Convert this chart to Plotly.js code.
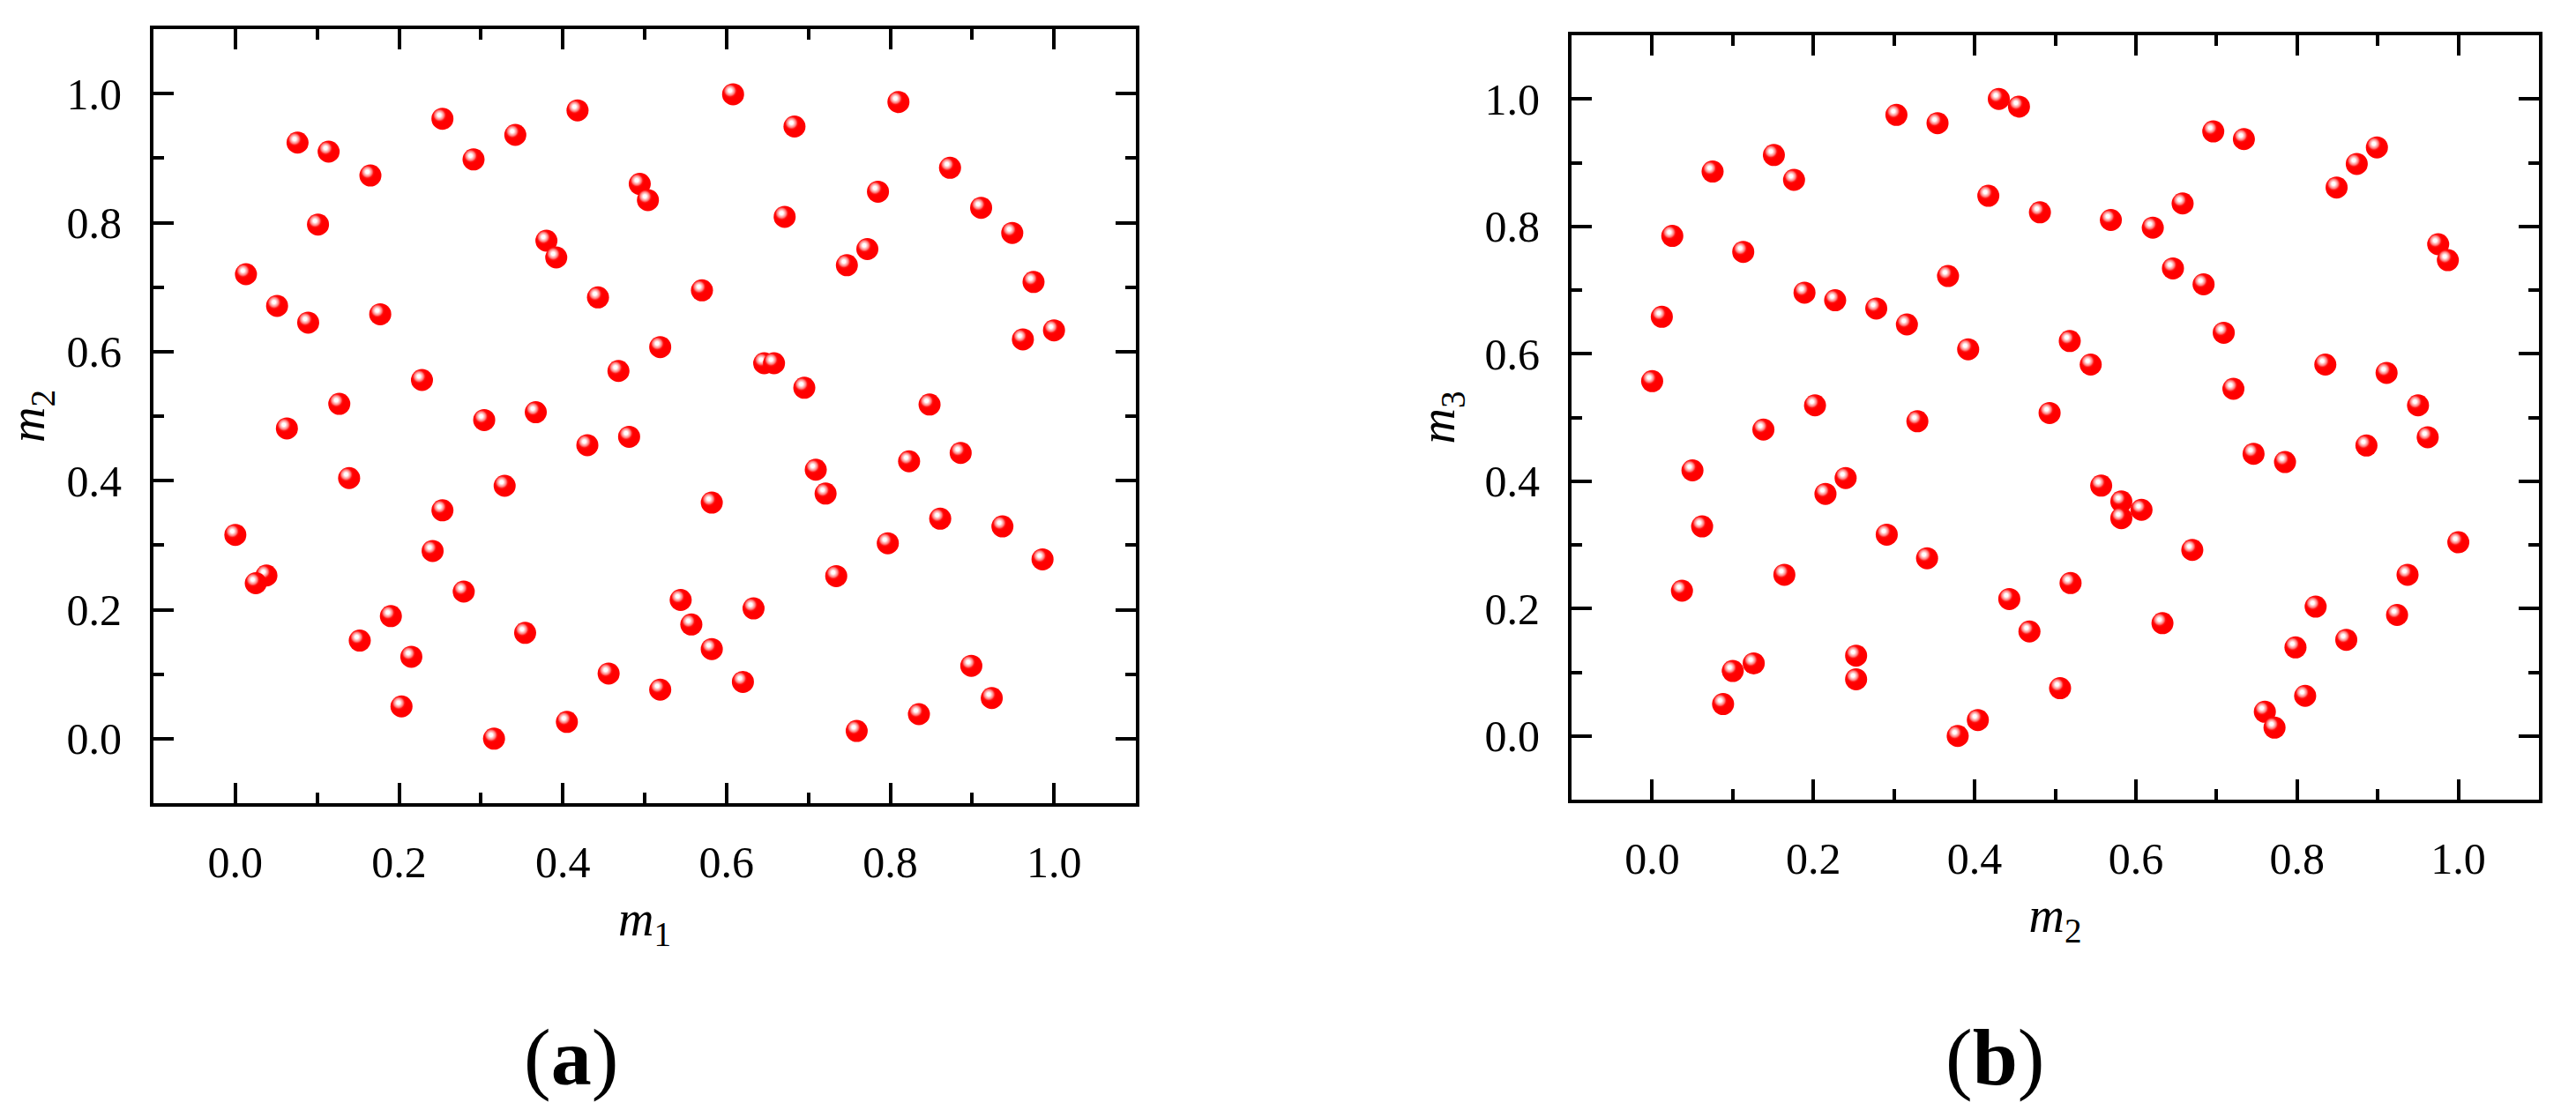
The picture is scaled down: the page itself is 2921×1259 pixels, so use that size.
<!DOCTYPE html>
<html>
<head>
<meta charset="utf-8">
<script src="https://cdn.plot.ly/plotly-3.0.1.min.js"></script>
<style>
  html, body { margin: 0; padding: 0; background: #ffffff; }
  #chart { width: 2921px; height: 1259px; }
</style>
</head>
<body>
<div id="chart"></div>
<script>
// ---- Panel (a): m1 vs m2 ----
var m1A = [0.076,0.114,0.253,0.342,0.418,0.291,0.165,0.101,0.494,0.504,0.380,0.392,0.013,0.051,0.089,0.177,0.443,0.468,0.228,0.127,0.367,
           0.608,0.810,0.683,0.873,0.785,0.911,0.671,0.949,0.772,0.747,0.975,0.570,1.000,0.962,0.519,0.646,0.658,0.695,0.848,
           0.063,0.304,0.430,0.481,0.139,0.329,0.253,0.000,0.241,0.038,0.025,0.279,0.190,0.354,0.152,0.215,0.456,0.203,0.405,0.316,
           0.886,0.823,0.709,0.721,0.582,0.861,0.937,0.797,0.986,0.734,0.544,0.633,0.557,0.582,0.899,0.620,0.519,0.924,0.835,0.759];
var m2A = [0.924,0.910,0.961,0.936,0.974,0.898,0.873,0.797,0.860,0.835,0.772,0.746,0.720,0.671,0.645,0.658,0.684,0.570,0.556,0.519,0.506,
           0.999,0.987,0.949,0.885,0.848,0.823,0.809,0.784,0.759,0.734,0.708,0.695,0.633,0.619,0.607,0.582,0.582,0.544,0.518,
           0.481,0.494,0.455,0.468,0.404,0.392,0.354,0.316,0.291,0.253,0.241,0.228,0.190,0.164,0.152,0.127,0.101,0.050,0.026,0.000,
           0.443,0.430,0.417,0.380,0.366,0.341,0.329,0.303,0.278,0.252,0.215,0.202,0.177,0.139,0.113,0.088,0.076,0.063,0.038,0.012];

// ---- Panel (b): m2 vs m3 ----
var m2B = [0.430,0.455,0.303,0.354,0.151,0.075,0.176,0.417,0.481,0.025,0.113,0.367,0.189,0.227,0.278,0.316,0.012,0.392,0.000,0.202,
           0.696,0.734,0.899,0.874,0.849,0.658,0.569,0.621,0.975,0.987,0.646,0.684,0.709,0.518,0.544,0.835,0.911,0.721,0.950,
           0.329,0.493,0.138,0.050,0.240,0.215,0.062,0.291,0.341,0.164,0.037,0.519,0.443,0.468,0.253,0.253,0.100,0.126,0.088,0.379,0.404,0.506,
           0.746,0.785,0.886,0.962,0.557,0.582,0.582,0.607,0.670,1.000,0.937,0.823,0.924,0.633,0.861,0.798,0.810,0.760,0.772];
var m3B = [1.000,0.988,0.975,0.962,0.912,0.886,0.873,0.848,0.822,0.785,0.760,0.722,0.696,0.684,0.671,0.646,0.658,0.607,0.557,0.519,
           0.949,0.937,0.924,0.898,0.861,0.836,0.810,0.798,0.772,0.747,0.734,0.709,0.633,0.620,0.583,0.583,0.570,0.545,0.519,
           0.494,0.507,0.481,0.417,0.405,0.380,0.329,0.316,0.279,0.253,0.228,0.240,0.215,0.164,0.126,0.089,0.102,0.114,0.050,0.000,0.025,0.075,
           0.443,0.430,0.456,0.469,0.393,0.368,0.342,0.355,0.292,0.304,0.253,0.203,0.190,0.177,0.151,0.139,0.063,0.038,0.013];

// ---- Axis ticks ----
var tickVals = [0, 0.2, 0.4, 0.6, 0.8, 1.0];
var tickText = ['0.0', '0.2', '0.4', '0.6', '0.8', '1.0'];
var minorTickVals = [-0.1, 0.1, 0.3, 0.5, 0.7, 0.9, 1.1];
var axisRange = [-0.1, 1.1];

var FONT = "'Liberation Serif', 'Times New Roman', Times, serif";

function axisStyle(extra) {
  var a = {
    range: axisRange, autorange: false,
    tickmode: 'array', tickvals: tickVals, ticktext: tickText,
    ticks: 'inside', ticklen: 23, tickwidth: 4, tickcolor: '#000000',
    showline: true, linewidth: 4, linecolor: '#000000', mirror: 'ticks',
    showgrid: false, zeroline: false,
    minor: { tickmode: 'array', tickvals: minorTickVals, ticks: 'inside', ticklen: 12, tickwidth: 4, tickcolor: '#000000', showgrid: false },
    tickfont: { family: FONT, size: 50, color: '#000000' },
    fixedrange: true
  };
  for (var k in extra) a[k] = extra[k];
  return a;
}

var markerStyle = { size: 25, color: '#ff0000', line: { width: 0 } };

var data = [
  { type: 'scatter', mode: 'markers', x: m1A, y: m2A, xaxis: 'x', yaxis: 'y', marker: markerStyle, hoverinfo: 'skip' },
  { type: 'scatter', mode: 'markers', x: m2B, y: m3B, xaxis: 'x2', yaxis: 'y2', marker: markerStyle, hoverinfo: 'skip' }
];

var W = 2921, H = 1259;
var titleFont = { family: FONT, size: 56, color: '#000000' };
var layout = {
  width: W, height: H,
  margin: { l: 0, r: 0, t: 0, b: 0, pad: 0 },
  paper_bgcolor: '#ffffff', plot_bgcolor: '#ffffff',
  showlegend: false,
  font: { family: FONT, color: '#000000' },
  xaxis: axisStyle({
    domain: [174 / W, 1288 / W], anchor: 'y', ticklabelstandoff: 20,
    title: { text: '<i>m</i><sub>1</sub>', font: titleFont, standoff: 18 }
  }),
  yaxis: axisStyle({
    domain: [(H - 911) / H, (H - 33) / H], anchor: 'x', ticklabelstandoff: 22,
    title: { text: '<i>m</i><sub>2</sub>', font: titleFont, standoff: 27 }
  }),
  xaxis2: axisStyle({
    domain: [1782 / W, 2879 / W], anchor: 'y2', ticklabelstandoff: 20,
    title: { text: '<i>m</i><sub>2</sub>', font: titleFont, standoff: 18 }
  }),
  yaxis2: axisStyle({
    domain: [(H - 907) / H, (H - 40) / H], anchor: 'x2', ticklabelstandoff: 22,
    title: { text: '<i>m</i><sub>3</sub>', font: titleFont, standoff: 17 }
  }),
  annotations: [
    { text: '(<b>a</b>)', xref: 'paper', yref: 'paper', x: 647 / W, y: (H - 1199) / H, xanchor: 'center', yanchor: 'middle',
      showarrow: false, font: { family: FONT, size: 92, color: '#000000' } },
    { text: '(<b>b</b>)', xref: 'paper', yref: 'paper', x: 2262 / W, y: (H - 1199) / H, xanchor: 'center', yanchor: 'middle',
      showarrow: false, font: { family: FONT, size: 92, color: '#000000' } }
  ]
};

var gd = document.getElementById('chart');
Plotly.newPlot(gd, data, layout, { staticPlot: true, displayModeBar: false }).then(function () {
  var NS = 'http://www.w3.org/2000/svg';
  // drop the empty zero-width helper spans/characters Plotly adds around subscripts (titles end there anyway)
  gd.querySelectorAll('tspan').forEach(function (t) {
    if (t.childElementCount === 0 && t.textContent.replace(/\u200b/g, '') === '') t.parentNode.removeChild(t);
  });
  gd.querySelectorAll('svg text').forEach(function (txt) {
    var walker = document.createTreeWalker(txt, NodeFilter.SHOW_TEXT, null);
    var nodes = [], n;
    while ((n = walker.nextNode())) nodes.push(n);
    nodes.forEach(function (tn) {
      if (tn.nodeValue.indexOf('\u200b') !== -1) {
        var v = tn.nodeValue.replace(/\u200b/g, '');
        if (v === '') tn.parentNode.removeChild(tn); else tn.nodeValue = v;
      }
    });
  });
  // glossy sphere shading on each marker, like the original
  var svg = gd.querySelector('svg.main-svg');
  if (!svg) return;
  var defs = svg.querySelector('defs');
  if (!defs) { defs = document.createElementNS(NS, 'defs'); svg.insertBefore(defs, svg.firstChild); }
  var grad = document.createElementNS(NS, 'radialGradient');
  grad.setAttribute('id', 'sphereShade');
  grad.setAttribute('cx', '0.37'); grad.setAttribute('cy', '0.35'); grad.setAttribute('r', '0.62');
  grad.setAttribute('fx', '0.36'); grad.setAttribute('fy', '0.33');
  var stops = [[0, '#ffffff'], [0.12, '#ffffff'], [0.2, '#ffd0d0'], [0.33, '#ff8080'], [0.45, '#ff1010'], [0.55, '#ff0000'], [1, '#ff0000']];
  stops.forEach(function (s) {
    var st = document.createElementNS(NS, 'stop');
    st.setAttribute('offset', s[0]);
    st.setAttribute('stop-color', s[1]);
    grad.appendChild(st);
  });
  defs.appendChild(grad);
  gd.querySelectorAll('.scatterlayer .point').forEach(function (p) {
    p.style.fill = 'url(#sphereShade)';
  });
});
</script>
</body>
</html>
